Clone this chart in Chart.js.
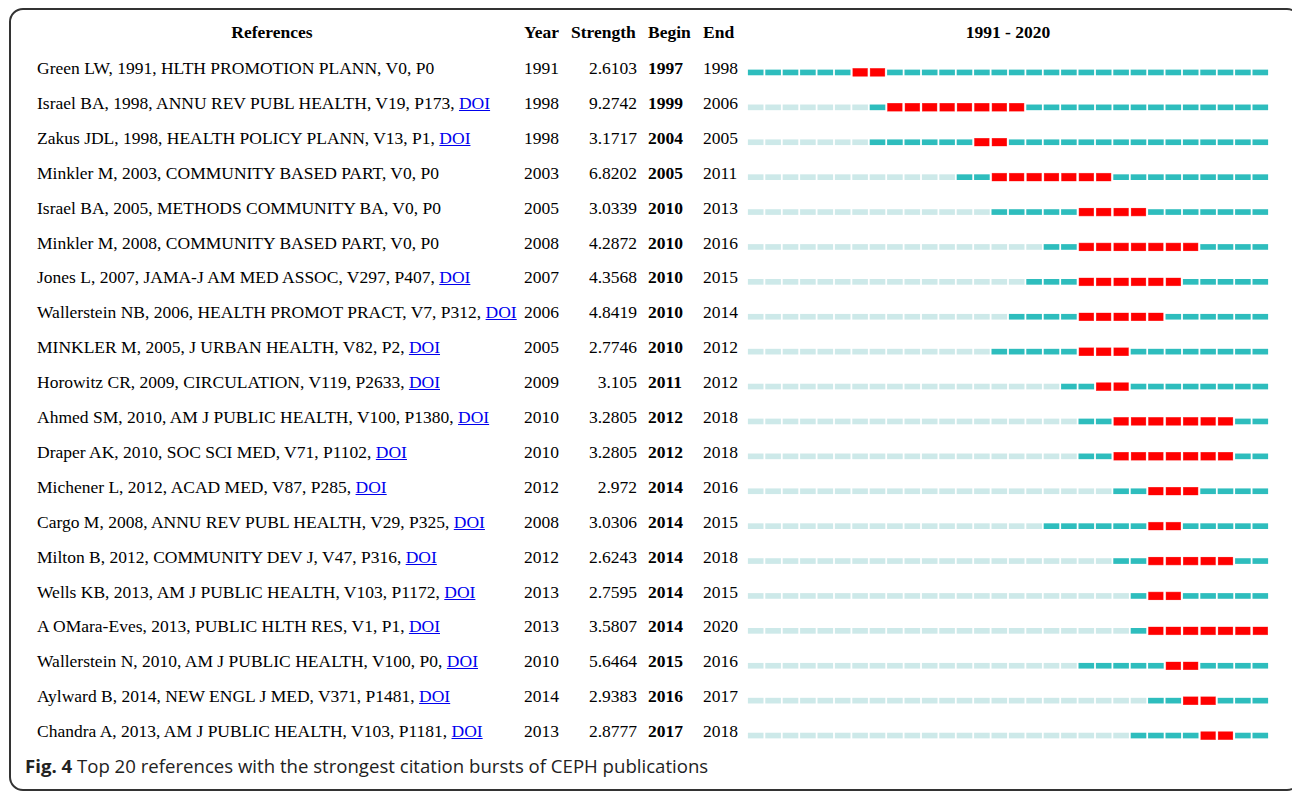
<!DOCTYPE html>
<html>
<head>
<meta charset="utf-8">
<script src="https://cdn.jsdelivr.net/npm/chart.js@4.4.1/dist/chart.umd.min.js"></script>
<style>
  html, body { margin: 0; padding: 0; background: #fff; overflow: hidden; }
  #page { position: relative; width: 1292px; height: 795px; overflow: hidden; }
  #frame {
    position: absolute; left: 9px; top: 8px; width: 1292px; height: 783px;
    border: 2px solid #333; border-radius: 14px; box-sizing: border-box;
  }
  .t { position: absolute; font-family: "Liberation Serif", "Times New Roman", serif;
       font-size: 17.5px; color: #000; white-space: nowrap; line-height: 20px; }
  .b { font-weight: bold; }
  .doi { color: #0000ee; text-decoration: underline; }
  #chartBox { position: absolute; left: 747px; top: 55px; width: 522px; height: 698px; }
  #caption { position: absolute; left: 25px; top: 753px; font-family: "Open Sans", sans-serif;
             font-size: 18.6px; line-height: 26px; color: #222; white-space: nowrap; }
</style>
</head>
<body>
<div id="page">
  <div id="frame"></div>
  <div id="table"></div>
  <div id="chartBox"><canvas id="burstChart"></canvas></div>
  <div id="caption"><b>Fig. 4</b> Top 20 references with the strongest citation bursts of CEPH publications</div>
</div>
<script>
const refs = [
  "Green LW, 1991, HLTH PROMOTION PLANN, V0, P0",
  "Israel BA, 1998, ANNU REV PUBL HEALTH, V19, P173, ",
  "Zakus JDL, 1998, HEALTH POLICY PLANN, V13, P1, ",
  "Minkler M, 2003, COMMUNITY BASED PART, V0, P0",
  "Israel BA, 2005, METHODS COMMUNITY BA, V0, P0",
  "Minkler M, 2008, COMMUNITY BASED PART, V0, P0",
  "Jones L, 2007, JAMA-J AM MED ASSOC, V297, P407, ",
  "Wallerstein NB, 2006, HEALTH PROMOT PRACT, V7, P312, ",
  "MINKLER M, 2005, J URBAN HEALTH, V82, P2, ",
  "Horowitz CR, 2009, CIRCULATION, V119, P2633, ",
  "Ahmed SM, 2010, AM J PUBLIC HEALTH, V100, P1380, ",
  "Draper AK, 2010, SOC SCI MED, V71, P1102, ",
  "Michener L, 2012, ACAD MED, V87, P285, ",
  "Cargo M, 2008, ANNU REV PUBL HEALTH, V29, P325, ",
  "Milton B, 2012, COMMUNITY DEV J, V47, P316, ",
  "Wells KB, 2013, AM J PUBLIC HEALTH, V103, P1172, ",
  "A OMara-Eves, 2013, PUBLIC HLTH RES, V1, P1, ",
  "Wallerstein N, 2010, AM J PUBLIC HEALTH, V100, P0, ",
  "Aylward B, 2014, NEW ENGL J MED, V371, P1481, ",
  "Chandra A, 2013, AM J PUBLIC HEALTH, V103, P1181, "
];
const hasDoi = [false, true, true, false, false, false, true, true, true, true,
                true, true, true, true, true, true, true, true, true, true];
const pubYear = [1991, 1998, 1998, 2003, 2005, 2008, 2007, 2006, 2005, 2009,
                 2010, 2010, 2012, 2008, 2012, 2013, 2013, 2010, 2014, 2013];
const strength = ["2.6103", "9.2742", "3.1717", "6.8202", "3.0339", "4.2872", "4.3568", "4.8419", "2.7746", "3.105",
                  "3.2805", "3.2805", "2.972", "3.0306", "2.6243", "2.7595", "3.5807", "5.6464", "2.9383", "2.8777"];
const burstBegin = [1997, 1999, 2004, 2005, 2010, 2010, 2010, 2010, 2010, 2011,
                    2012, 2012, 2014, 2014, 2014, 2014, 2014, 2015, 2016, 2017];
const burstEnd = [1998, 2006, 2005, 2011, 2013, 2016, 2015, 2014, 2012, 2012,
                  2018, 2018, 2016, 2015, 2018, 2015, 2020, 2016, 2017, 2018];
const firstYear = 1991;
const lastYear = 2020;

// table text
const rowTop = 58, rowStep = 34.9;
const table = document.getElementById("table");
function addText(txt, x, y, cls, align) {
  const d = document.createElement("div");
  d.className = "t " + (cls || "");
  d.innerHTML = txt;
  d.style.top = y + "px";
  if (align === "right") { d.style.right = (1292 - x) + "px"; }
  else if (align === "center") { d.style.left = x + "px"; d.style.transform = "translateX(-50%)"; }
  else { d.style.left = x + "px"; }
  table.appendChild(d);
}
addText("References", 272, 22, "b", "center");
addText("Year", 524, 22, "b");
addText("Strength", 571, 22, "b");
addText("Begin", 648, 22, "b");
addText("End", 703, 22, "b");
addText(firstYear + " - " + lastYear, 1008, 22, "b", "center");

refs.forEach((r, i) => {
  const y = rowTop + i * rowStep;
  addText(r + (hasDoi[i] ? '<span class="doi">DOI</span>' : ""), 37, y);
  addText(pubYear[i], 524, y);
  addText(strength[i], 637, y, "", "right");
  addText(burstBegin[i], 648, y, "b");
  addText(burstEnd[i], 703, y);
});

// bars
const years = [];
for (let y = firstYear; y <= lastYear; y++) years.push(y);
const inset = 0.07;

const datasets = [];
years.forEach(yr => {
  datasets.push({
    data: refs.map((r, i) => (yr >= burstBegin[i] && yr <= burstEnd[i]) ? null : [yr + inset, yr + 1 - inset]),
    backgroundColor: refs.map((r, i) => yr >= pubYear[i] ? "#2ebdbd" : "#cde9e9"),
    barThickness: 5,
    grouped: false,
    order: 2
  });
});
years.forEach(yr => {
  datasets.push({
    data: refs.map((r, i) => (yr >= burstBegin[i] && yr <= burstEnd[i]) ? [yr + inset, yr + 1 - inset] : null),
    backgroundColor: "#ff0000",
    borderColor: "#ff5050",
    borderWidth: 0.6,
    borderSkipped: false,
    barThickness: 8,
    grouped: false,
    order: 1
  });
});

new Chart(document.getElementById("burstChart"), {
  type: "bar",
  data: { labels: refs.map((r, i) => i), datasets: datasets },
  options: {
    indexAxis: "y",
    responsive: true,
    maintainAspectRatio: false,
    animation: false,
    layout: { padding: 0 },
    plugins: { legend: { display: false }, tooltip: { enabled: false } },
    scales: {
      x: { type: "linear", min: firstYear, max: lastYear + 1, display: false },
      y: { display: false }
    }
  }
});
</script>
</body>
</html>
